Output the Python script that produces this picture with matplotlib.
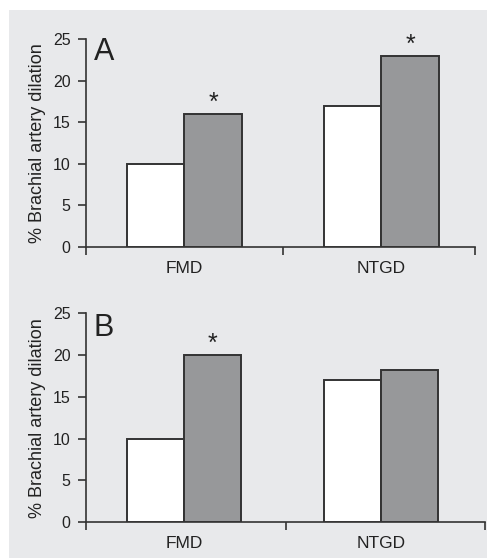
import matplotlib
matplotlib.use("Agg")
import matplotlib.pyplot as plt
import numpy as np

plt.rcParams['font.family'] = ['Liberation Sans', 'DejaVu Sans']

categories = ["FMD", "NTGD"]
panel_a_white = [10, 17]
panel_a_gray = [16, 23]
panel_a_sig = [True, True]
panel_b_white = [10, 17]
panel_b_gray = [20, 18.2]
panel_b_sig = [True, False]
yticks = [0, 5, 10, 15, 20, 25]
ylabel = "% Brachial artery dilation"

BG = "#e8e9eb"
GRAY = "#97989a"
EDGE = "#333333"

fig = plt.figure(figsize=(4.87, 5.58), dpi=100)
fig.patch.set_facecolor("white")
fig.patches.append(plt.Rectangle((9 / 487, 0), 1 - 9 / 487, 1 - 10 / 558,
                                 transform=fig.transFigure, facecolor=BG,
                                 edgecolor="none", zorder=-10))

def panel(rect, white, gray, sig, letter, xmax, midtick, label_x, letter_y):
    ax = fig.add_axes(rect)
    ax.set_facecolor("none")
    centers = np.arange(len(categories)) + 0.5
    w = 0.29
    ax.bar(centers - w / 2, white, width=w, color="white", edgecolor=EDGE, linewidth=1.4, zorder=3)
    ax.bar(centers + w / 2, gray, width=w, color=GRAY, edgecolor=EDGE, linewidth=1.4, zorder=3)
    for c, g, s in zip(centers, gray, sig):
        if s:
            ax.text(c + w / 2, g + 0.5, "*", ha="center", va="baseline",
                    fontsize=18, color="#222222")
    ax.set_xlim(0, xmax)
    ax.set_ylim(0, 25)
    ax.set_yticks(yticks)
    ax.set_yticklabels([str(t) for t in yticks], fontsize=11.5, color="#222222")
    ax.set_xticks([0, midtick, xmax])
    ax.set_xticklabels([])
    ax.set_xticks(centers, minor=True)
    ax.set_xticklabels(categories, minor=True, fontsize=12.5, color="#222222")
    ax.tick_params(axis="x", which="major", direction="out", length=6, width=1.2, color=EDGE)
    ax.tick_params(axis="x", which="minor", length=0, pad=10)
    ax.tick_params(axis="y", direction="out", length=6, width=1.2, color=EDGE, pad=5)
    for sp in ["top", "right"]:
        ax.spines[sp].set_visible(False)
    for sp in ["left", "bottom"]:
        ax.spines[sp].set_color(EDGE)
        ax.spines[sp].set_linewidth(1.2)
    ax.set_ylabel(ylabel, fontsize=13, color="#222222")
    ax.yaxis.set_label_coords(label_x, 0.5)
    ax.text(0.02, letter_y, letter, transform=ax.transAxes, fontsize=22,
            ha="left", va="baseline", color="#222222")
    return ax

panel([86 / 487, (558 - 247) / 558, 389 / 487, 208 / 558],
      panel_a_white, panel_a_gray, panel_a_sig, "A", 1.975, 1.0, -0.102, 0.9)
panel([86 / 487, (558 - 522.3) / 558, 399 / 487, 209 / 558],
      panel_b_white, panel_b_gray, panel_b_sig, "B", 2.03, 1.02, -0.1, 0.891)

fig.savefig("out.png", dpi=100, facecolor=fig.get_facecolor())
